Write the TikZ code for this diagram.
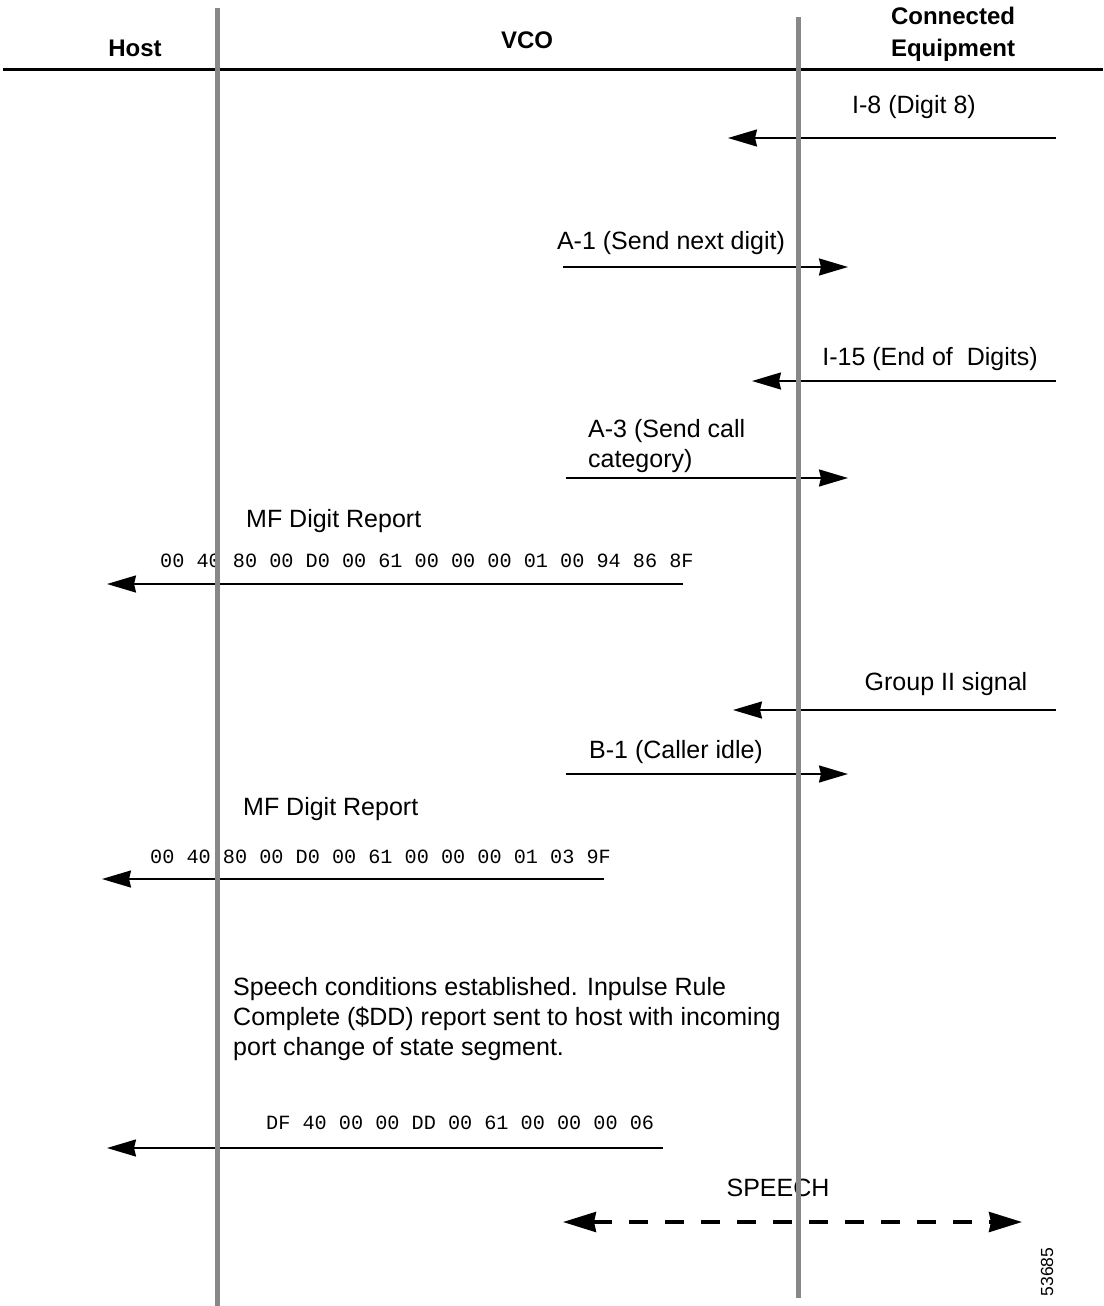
\documentclass[tikz,border=0pt]{standalone}
\usepackage{fontspec}
\setmainfont{Liberation Sans}
\setmonofont{Liberation Mono}
\usetikzlibrary{arrows.meta}
\usepackage{xcolor}
\definecolor{lifegray}{RGB}{136,136,136}

\begin{document}
\begin{tikzpicture}[x=1pt,y=-1pt,>={Stealth[length=29pt,width=17pt,inset=2pt]},line cap=butt,
  hdr/.style={font=\fontsize{24}{32}\selectfont\bfseries,inner sep=0pt,align=center},
  lbl/.style={font=\fontsize{25}{30}\selectfont,inner sep=0pt},
  hexcode/.style={font=\fontsize{20.2}{24}\selectfont\ttfamily,inner sep=0pt,anchor=west},
  msg/.style={->,line width=2pt},
  life/.style={lifegray,line width=5pt}]
\useasboundingbox (0,0) rectangle (1103,1306);
% headings
\node[hdr] (host) at (135,48) {Host};
\node[hdr] (vco) at (527,40) {VCO};
\node[hdr] (equip) at (953,34) {Connected\\Equipment};
\draw[line width=3pt] (3,70) -- (1103,70);
% lifeline ends
\coordinate (hosttop) at (217,8);
\coordinate (hostbot) at (217,1306);
\coordinate (eqtop) at (798,17);
\coordinate (eqbot) at (798,1298);
% I-8
\node[lbl] (i8) at (914,107) {I-8 (Digit 8)};
\coordinate (i8a) at (1056,138); \coordinate (i8b) at (728,138);
\draw[msg] (i8a) -- (i8b);
% A-1
\node[lbl] (a1) at (671,243) {A-1 (Send next digit)};
\coordinate (a1a) at (563,267); \coordinate (a1b) at (848,267);
\draw[msg] (a1a) -- (a1b);
% I-15
\node[lbl] (i15) at (930,359) {I-15 (End of\ \ Digits)};
\coordinate (i15a) at (1056,381); \coordinate (i15b) at (752,381);
\draw[msg] (i15a) -- (i15b);
% A-3
\node[lbl,align=left,anchor=west] (a3) at (588,446) {A-3 (Send call\\category)};
\coordinate (a3a) at (566,478); \coordinate (a3b) at (848,478);
\draw[msg] (a3a) -- (a3b);
% first digit report
\node[lbl,anchor=west] (rep1) at (246,521) {MF Digit Report};
\node[hexcode] (hex1) at (160,561) {00 40 80 00 D0 00 61 00 00 00 01 00 94 86 8F};
\coordinate (rep1a) at (683,584); \coordinate (rep1b) at (107,584);
\draw[msg] (rep1a) -- (rep1b);
% Group II
\node[lbl] (grp) at (946,684) {Group II signal};
\coordinate (grpa) at (1056,710); \coordinate (grpb) at (733,710);
\draw[msg] (grpa) -- (grpb);
% B-1
\node[lbl] (b1) at (676,752) {B-1 (Caller idle)};
\coordinate (b1a) at (566,774); \coordinate (b1b) at (848,774);
\draw[msg] (b1a) -- (b1b);
% second digit report
\node[lbl,anchor=west] (rep2) at (243,809) {MF Digit Report};
\node[hexcode] (hex2) at (150,857) {00 40 80 00 D0 00 61 00 00 00 01 03 9F};
\coordinate (rep2a) at (604,879); \coordinate (rep2b) at (102,879);
\draw[msg] (rep2a) -- (rep2b);
% rule complete
\node[lbl,align=left,anchor=west] (note) at (233,1019) {Speech conditions established. Inpulse Rule\\Complete (\$DD) report sent to host with incoming\\port change of state segment.};
\node[hexcode] (hex3) at (266,1123) {DF 40 00 00 DD 00 61 00 00 00 06};
\coordinate (dda) at (663,1148); \coordinate (ddb) at (107,1148);
\draw[msg] (dda) -- (ddb);
% speech
\node[lbl] (speech) at (778,1188) {SPEECH};
\coordinate (spa) at (563,1222); \coordinate (spb) at (1022,1222);
\draw[{Stealth[length=33pt,width=20pt,inset=2pt]}-{Stealth[length=33pt,width=20pt,inset=2pt]},line width=3.5pt,dash pattern=on 19pt off 17pt] (spa) -- (spb);
\node[font=\fontsize{17.5}{20}\selectfont,inner sep=0pt,rotate=90] (figno) at (1047,1272) {53685};
% lifelines
\draw[life] (hosttop) -- (hostbot);
\draw[life] (eqtop) -- (eqbot);
\end{tikzpicture}
\end{document}
